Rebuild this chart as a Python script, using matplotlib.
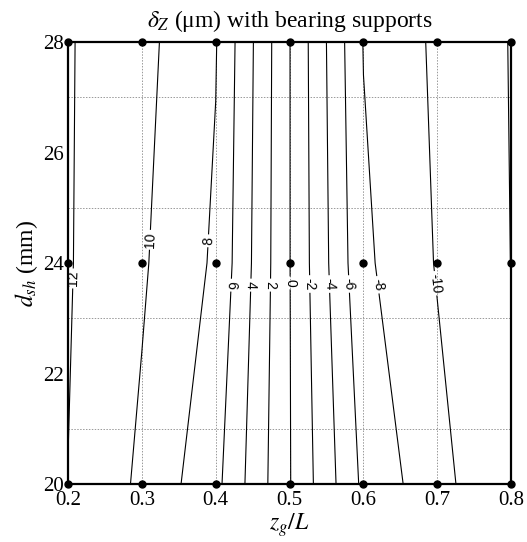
import matplotlib
matplotlib.use("Agg")
from matplotlib import pyplot as plt
import numpy as np

plt.rcParams["font.family"] = ["Liberation Serif", "DejaVu Serif"]
plt.rcParams["mathtext.fontset"] = "stix"

# grid of the computed cases
zg = np.array([0.2, 0.3, 0.4, 0.5, 0.6, 0.7, 0.8])
dsh = np.array([20, 24, 28])

# delta_Z (um), one list per shaft diameter
dz_20 = [11.98, 9.64, 6.55, 0.10, -6.42, -9.36, -11.90]
dz_24 = [12.14, 10.24, 7.70, 0.05, -7.60, -10.13, -12.02]
dz_28 = [12.15, 10.59, 8.11, 0.05, -8.07, -10.36, -12.08]

levels = [-12, -10, -8, -6, -4, -2, 0, 2, 4, 6, 8, 10, 12]

Z = np.array([dz_20, dz_24, dz_28])
X, Y = np.meshgrid(zg, dsh)

fig = plt.figure(figsize=(5.27, 5.42), dpi=100)
ax = fig.add_axes([0.129, 0.107, 0.841, 0.8155])

# dotted grid
ax.set_xticks(zg)
ax.set_yticks([20, 22, 24, 26, 28])
ax.set_yticks(np.arange(20, 29, 1), minor=True)
ax.grid(True, which="major", axis="x", color="0.6", linestyle=(0, (1.5, 1.5)), linewidth=0.7)
ax.grid(True, which="minor", axis="y", color="0.6", linestyle=(0, (1.5, 1.5)), linewidth=0.7)
ax.set_axisbelow(True)

cs = ax.contour(X, Y, Z, levels=levels, colors="k", linewidths=0.8,
                linestyles="solid")

# label spots, roughly along d_sh = 24 (no label on -12)
label_pos = [(0.695, 23.63), (0.616, 23.6), (0.5797, 23.62), (0.555, 23.62),
             (0.528, 23.62), (0.5007, 23.64), (0.4737, 23.6), (0.4466, 23.6),
             (0.4195, 23.6), (0.392, 24.4), (0.311, 24.42), (0.2072, 23.72)]
texts = ax.clabel(cs, manual=label_pos, inline=True,
                  fontsize=10, fmt="%d", inline_spacing=3)
for t in texts:
    t.set_fontfamily("Liberation Sans")
    val = float(t.get_text().replace("\u2212", "-"))
    r = t.get_rotation() % 360
    if r > 180:
        r -= 360
    # lines right of the 8 contour read top to bottom
    if val <= 6 and r > 0:
        r -= 180
    t.set_rotation(r)

ax.plot(X.ravel(), Y.ravel(), "o", color="k", markersize=5, clip_on=False, zorder=5)

ax.set_xlim(0.2, 0.8)
ax.set_ylim(20, 28)
ax.tick_params(which="both", length=0, labelsize=15)
ax.tick_params(axis="x", pad=5)
ax.tick_params(axis="y", pad=3)
ax.set_xticklabels(["0.2", "0.3", "0.4", "0.5", "0.6", "0.7", "0.8"])
for s in ax.spines.values():
    s.set_linewidth(1.6)
    s.set_color("k")

ax.set_title(r"$\delta_Z$ (μm) with bearing supports", fontsize=17, pad=11)
ax.set_xlabel(r"$z_g/L$", fontsize=17, labelpad=1)
ax.set_ylabel(r"$d_{sh}$ (mm)", fontsize=17, labelpad=2)

fig.savefig("out.png", dpi=100)
